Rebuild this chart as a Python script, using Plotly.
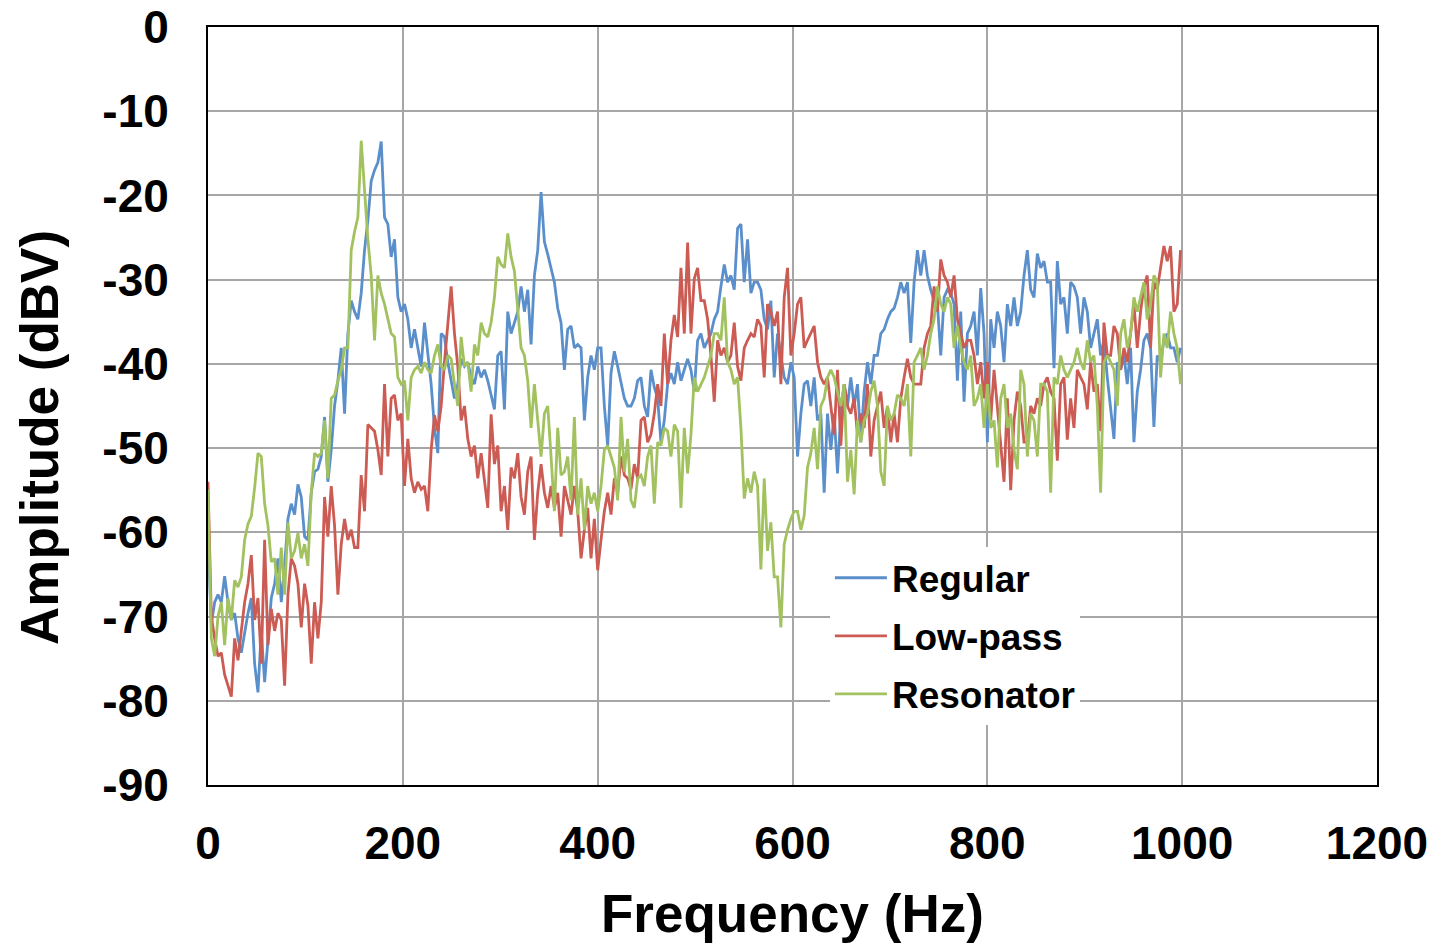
import plotly.graph_objects as go

# Frequency resolution of the spectra (Hz per bin)
FREQ_STEP = 3.419

series_names = ["Regular", "Low-pass", "Resonator"]

regular = [
    -60.9, -70.9, -68.3, -67.4, -68.3, -65.2, -68.3, -70.4, -69.6, -72.6, -74.3, -71.7, -69.6, -67.8, -75.6, -79.0, -71.7, -77.8, -72.6, -67.8, -66.1, -63.1, -68.3, -64.0, -58.4, -56.6, -57.9, -54.3, -55.8, -60.5, -60.9, -55.3, -52.8, -52.5, -51.0,
    -46.3, -54.0, -50.2, -45.0, -42.0, -38.1, -45.9, -36.4, -32.5, -33.8, -34.7, -31.6, -26.5, -23.0, -18.3, -17.0, -16.1, -13.6, -22.6, -23.4, -27.3, -25.2, -32.1, -33.8, -32.9, -34.7, -38.1, -35.9, -38.1, -40.3, -35.1, -39.0, -42.4, -47.6, -50.6, -36.4,
    -36.8, -39.8, -42.0, -44.1, -42.4, -39.4, -40.3, -39.8, -41.6, -42.4, -40.3, -41.6, -40.7, -42.0, -43.7, -45.4, -39.0, -38.5, -45.4, -33.8, -36.4, -35.1, -33.8, -30.8, -33.8, -31.2, -37.7, -29.5, -26.5, -19.6, -25.5, -27.0, -28.6, -30.3, -33.4, -35.1,
    -40.7, -35.9, -35.5, -38.1, -37.7, -38.1, -46.7, -41.6, -39.0, -40.7, -38.1, -38.1, -45.0, -49.7, -41.1, -38.5, -40.3, -42.4, -44.1, -45.0, -45.0, -44.1, -42.0, -41.6, -45.0, -46.3, -40.7, -42.8, -44.1, -49.3, -46.7, -42.4, -41.1, -42.4, -39.8, -42.0,
    -40.7, -39.4, -40.7, -43.3, -37.2, -36.4, -38.1, -37.2, -36.4, -34.7, -33.8, -30.8, -28.2, -30.3, -29.5, -31.2, -23.9, -23.4, -30.3, -25.2, -31.6, -30.3, -30.3, -31.2, -34.7, -35.9, -32.5, -41.6, -36.4, -39.0, -41.6, -42.4, -39.8, -41.6, -51.0, -45.9,
    -42.4, -42.0, -45.0, -41.6, -46.7, -45.9, -55.3, -45.9, -50.2, -45.9, -53.0, -45.9, -42.4, -45.0, -41.6, -45.0, -42.4, -49.3, -43.3, -39.8, -42.4, -39.0, -39.0, -36.4, -35.9, -34.7, -33.8, -33.4, -32.1, -30.3, -31.6, -30.3, -37.5, -30.3, -26.5, -29.5,
    -26.5, -29.5, -31.2, -32.5, -32.9, -39.0, -32.1, -31.2, -31.6, -32.9, -42.0, -33.8, -44.5, -36.4, -35.5, -33.8, -39.0, -31.0, -36.4, -49.3, -34.7, -38.1, -33.8, -35.5, -39.8, -32.9, -35.5, -32.1, -35.5, -33.8, -29.5, -26.5, -31.2, -32.1, -26.9, -28.6,
    -27.8, -30.3, -30.3, -40.5, -27.8, -32.9, -32.1, -36.4, -30.3, -30.8, -32.1, -36.4, -32.1, -33.8, -38.1, -36.4, -34.7, -39.0, -37.2, -41.6, -45.0, -48.9, -39.8, -40.7, -39.0, -42.4, -38.1, -49.3, -43.3, -40.7, -37.2, -36.4, -38.1, -47.5, -39.0, -39.8, -37.2, -36.4, -38.1, -38.1, -39.8, -38.1,
]

low_pass = [
    -54.0, -70.0, -72.6, -74.7, -74.3, -76.9, -78.2, -79.5, -72.6, -75.2, -71.7, -68.3, -66.1, -62.7, -70.4, -67.8, -75.6, -60.9, -73.4, -69.1, -71.7, -69.6, -70.4, -78.2, -67.4, -63.1, -64.0, -66.1, -71.3, -66.1, -68.7, -75.6, -68.3, -72.6, -68.3,
    -55.8, -60.5, -54.5, -59.2, -67.4, -61.4, -58.4, -60.9, -59.7, -61.8, -61.8, -53.2, -57.5, -47.2, -47.6, -48.0, -50.2, -53.2, -42.4, -51.0, -44.1, -43.7, -46.7, -45.9, -54.5, -48.9, -53.6, -55.3, -54.0, -54.9, -54.5, -57.5, -50.2, -46.1, -48.0, -45.0,
    -39.8, -35.5, -30.8, -36.4, -40.3, -46.7, -45.0, -48.9, -51.0, -49.7, -53.6, -50.6, -53.6, -57.1, -46.0, -51.9, -49.7, -57.5, -54.5, -59.7, -52.3, -53.6, -50.6, -55.8, -57.9, -52.8, -51.0, -60.9, -55.3, -51.9, -55.3, -57.1, -54.5, -57.1, -55.3, -60.5,
    -54.5, -56.2, -57.9, -54.5, -57.5, -63.1, -59.7, -57.1, -63.1, -58.4, -64.5, -60.9, -57.5, -55.3, -57.9, -53.6, -55.3, -51.0, -53.2, -53.6, -54.9, -51.9, -53.6, -46.7, -46.3, -49.3, -48.4, -45.9, -42.4, -45.0, -36.4, -42.4, -37.2, -34.2, -36.8, -28.6,
    -36.4, -25.6, -36.4, -29.9, -28.6, -32.5, -32.5, -34.7, -39.0, -44.5, -37.2, -39.0, -38.1, -39.8, -39.0, -35.1, -40.3, -42.0, -38.1, -37.2, -36.4, -36.8, -34.7, -35.5, -41.6, -32.9, -33.8, -35.5, -33.8, -42.4, -32.1, -28.6, -39.0, -36.4, -32.9, -32.1,
    -38.1, -37.2, -36.4, -35.5, -39.8, -41.6, -42.4, -41.6, -45.0, -48.4, -40.7, -49.7, -42.4, -45.0, -45.9, -44.1, -48.4, -45.9, -47.6, -42.4, -51.0, -46.7, -45.0, -43.3, -47.6, -45.0, -49.3, -45.9, -49.3, -44.1, -41.6, -39.4, -41.6, -42.4, -42.4, -42.4,
    -38.1, -36.4, -35.5, -30.8, -33.8, -27.6, -29.5, -30.3, -32.1, -29.5, -34.7, -36.4, -38.1, -37.2, -37.2, -39.0, -42.4, -39.8, -44.1, -39.8, -46.7, -40.7, -45.0, -49.3, -54.0, -44.1, -55.0, -46.7, -43.3, -45.0, -49.3, -49.3, -45.0, -45.9, -44.1, -45.0,
    -42.4, -41.6, -43.3, -44.1, -51.5, -42.4, -41.6, -49.0, -44.1, -47.6, -40.7, -41.6, -42.4, -45.4, -39.8, -43.3, -42.4, -48.0, -35.1, -39.0, -39.0, -35.5, -36.4, -40.7, -38.1, -39.8, -36.4, -32.9, -38.1, -33.8, -30.8, -29.5, -38.1, -30.3, -31.2, -28.6, -26.0, -27.8, -26.0, -33.8, -32.9, -26.5,
]

resonator = [
    -54.9, -72.6, -74.7, -70.0, -68.3, -73.4, -67.8, -70.4, -65.7, -66.5, -65.3, -60.9, -59.0, -58.1, -54.7, -50.6, -51.0, -56.6, -59.2, -63.5, -63.1, -67.4, -61.8, -67.4, -58.8, -63.1, -62.2, -60.1, -63.1, -61.4, -64.0, -55.3, -50.6, -51.0, -50.6,
    -46.7, -53.6, -44.1, -43.7, -42.0, -40.7, -38.1, -38.1, -26.5, -24.3, -22.6, -13.5, -19.6, -25.2, -29.5, -37.2, -29.5, -31.6, -32.9, -34.7, -36.4, -36.8, -41.6, -42.4, -42.0, -46.7, -41.6, -40.7, -40.3, -41.1, -39.8, -40.7, -41.1, -39.0, -37.7, -40.3,
    -40.7, -39.0, -39.4, -42.4, -45.0, -36.8, -40.3, -39.8, -43.3, -37.7, -39.0, -35.1, -36.4, -36.8, -35.1, -32.1, -27.3, -28.2, -28.6, -24.5, -27.3, -29.0, -33.8, -38.1, -39.0, -42.0, -47.6, -42.4, -46.7, -51.0, -45.9, -45.0, -51.0, -57.5, -47.6, -53.2,
    -52.8, -51.0, -56.2, -46.3, -57.9, -53.6, -59.7, -54.5, -56.6, -55.3, -57.5, -54.5, -50.2, -49.7, -51.0, -52.3, -56.2, -46.3, -52.8, -48.9, -56.2, -57.1, -53.6, -53.2, -54.5, -51.0, -49.7, -56.6, -49.3, -49.7, -47.6, -48.0, -51.0, -47.2, -48.0, -57.1,
    -47.6, -53.0, -48.4, -41.6, -43.3, -42.4, -41.6, -40.3, -39.0, -36.4, -36.4, -37.2, -32.1, -39.8, -40.7, -42.4, -41.6, -47.6, -56.0, -53.6, -55.3, -52.8, -54.5, -64.4, -53.6, -62.2, -58.8, -65.3, -65.3, -71.3, -61.4, -59.7, -58.4, -57.5, -57.5, -59.7,
    -58.0, -52.3, -50.6, -47.6, -52.5, -45.0, -44.1, -41.6, -40.7, -41.6, -43.3, -45.0, -42.4, -54.0, -50.2, -55.5, -46.7, -49.3, -46.7, -45.9, -43.3, -42.0, -45.0, -52.8, -54.5, -45.0, -46.7, -45.9, -43.7, -44.1, -45.0, -42.4, -51.0, -39.8, -39.0, -38.1,
    -40.7, -39.0, -36.4, -34.7, -30.8, -32.9, -33.8, -32.1, -32.9, -38.1, -35.5, -38.1, -39.8, -40.7, -39.0, -45.0, -44.1, -42.4, -47.6, -42.4, -47.6, -46.7, -52.3, -44.1, -42.4, -47.6, -45.9, -50.2, -52.5, -40.7, -42.4, -51.0, -45.9, -46.7, -51.0, -42.4,
    -42.4, -43.3, -55.3, -41.6, -42.4, -39.0, -40.7, -41.6, -40.7, -39.8, -38.1, -39.8, -40.7, -37.2, -39.8, -39.0, -45.0, -55.3, -39.8, -39.0, -39.8, -40.7, -45.0, -36.4, -34.7, -38.1, -36.4, -32.1, -33.8, -32.1, -30.3, -34.7, -32.9, -29.5, -30.3, -41.6, -36.4, -38.1, -33.8, -36.4, -38.1, -42.4,
]

colors = ["#5A8FCB", "#CB5B53", "#A2C15F"]

x_ticks = [0, 200, 400, 600, 800, 1000, 1200]
y_ticks = [0, -10, -20, -30, -40, -50, -60, -70, -80, -90]

FONT = "Liberation Sans, Arial, Helvetica, sans-serif"

fig = go.Figure()
for name, vals, col in zip(series_names, [regular, low_pass, resonator], colors):
    freq = [round(i * FREQ_STEP, 2) for i in range(len(vals))]
    fig.add_trace(go.Scatter(
        x=freq, y=vals, mode="lines", name=name,
        legendgroup=name,
        line=dict(color=col, width=2.8),
    ))

fig.update_layout(
    width=1435, height=943,
    autosize=False,
    paper_bgcolor="white", plot_bgcolor="white",
    margin=dict(l=208, r=58, t=27, b=158, autoexpand=False),
    font=dict(family=FONT, color="black", size=46, weight="bold"),
    showlegend=True,
    legend=dict(
        x=0.532, y=0.3137, xanchor="left", yanchor="top",
        bgcolor="white", borderwidth=0,
        font=dict(family=FONT, size=37, color="black", weight="bold"),
        traceorder="grouped", tracegroupgap=7,
        itemwidth=52,
    ),
    xaxis=dict(
        range=[0, 1200], tickvals=x_ticks, ticktext=[str(v) for v in x_ticks],
        showgrid=True, gridcolor="#A6A6A6", gridwidth=2,
        showline=True, linecolor="black", linewidth=2, mirror=True,
        zeroline=False, ticks="", ticklabelstandoff=17, automargin=False,
        ticklabeloverflow="allow",
        tickfont=dict(family=FONT, size=46, color="black", weight="bold"),
    ),
    yaxis=dict(
        range=[-90, 0], tickvals=y_ticks, ticktext=[str(v) for v in y_ticks],
        showgrid=True, gridcolor="#A6A6A6", gridwidth=2,
        showline=True, linecolor="black", linewidth=2, mirror=True,
        zeroline=False, ticks="", ticklabelstandoff=28, automargin=False,
        ticklabeloverflow="allow",
        tickfont=dict(family=FONT, size=46, color="black", weight="bold"),
    ),
    annotations=[
        dict(text="Frequency (Hz)", xref="paper", yref="paper", x=0.5, y=-0.1689,
             xanchor="center", yanchor="middle", showarrow=False,
             font=dict(family=FONT, size=53, color="black", weight="bold")),
        dict(text="Amplitude (dBV)", xref="paper", yref="paper", x=-0.1437, y=0.4578,
             xanchor="center", yanchor="middle", showarrow=False, textangle=-90,
             font=dict(family=FONT, size=53, color="black", weight="bold")),
    ],
)

# remove the default page margin so the figure sits at the window's top-left corner
fig.write_html(
    "out.html",
    config={"displayModeBar": False},
    post_script="document.body.style.margin='0px';",
)
